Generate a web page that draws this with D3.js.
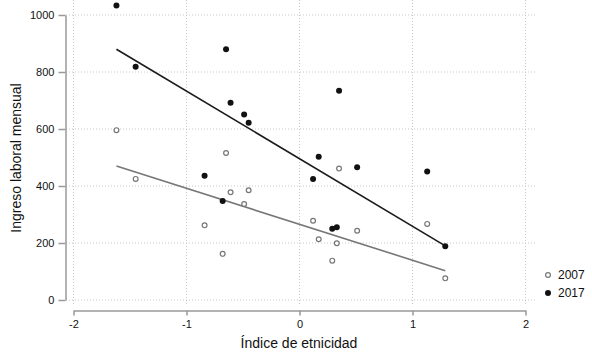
<!DOCTYPE html>
<html>
<head>
<meta charset="utf-8">
<script src="https://cdn.jsdelivr.net/npm/d3@7"></script>
<style>
  body { margin: 0; background: #fff; }
  svg { display: block; font-family: 'Liberation Sans', Arial, sans-serif; }
</style>
</head>
<body>
<svg id="chart" width="592" height="358"></svg>
<script>
// valores
const etnicidad = [-1.62, -1.45, -0.65, -0.84, -0.68, -0.61, -0.49, -0.45, 0.35, 0.12, 0.17, 0.33, 0.29, 0.51, 1.13, 1.29];
const ingreso2007 = [596, 425, 516, 262, 162, 378, 337, 385, 461, 278, 213, 199, 138, 243, 267, 76];

const etnicidad2017 = [-1.62, -1.45, -0.65, -0.61, -0.49, -0.45, -0.84, -0.68, 0.35, 0.17, 0.51, 1.13, 0.12, 0.29, 0.33, 1.29];
const ingreso2017 = [1033, 818, 880, 692, 651, 622, 436, 347, 734, 503, 466, 451, 425, 250, 255, 189];

// rectas de ajuste (extremos)
const ajuste2007 = [[-1.62, 470], [1.29, 103]];
const ajuste2017 = [[-1.62, 880], [1.29, 190]];

const xTicks = [-2, -1, 0, 1, 2];
const yTicks = [0, 200, 400, 600, 800, 1000];
const series = ['2007', '2017'];

const svg = d3.select('#chart');

const x = d3.scaleLinear().domain([-2, 2]).range([73.5, 525.5]);
const y = d3.scaleLinear().domain([0, 1000]).range([300, 15]);

// rejilla punteada
const grid = svg.append('g');
grid.selectAll('line.h')
  .data(yTicks)
  .enter()
  .append('line')
  .attr('x1', 66).attr('x2', 535)
  .attr('y1', d => y(d)).attr('y2', d => y(d))
  .attr('stroke', '#c8c8c8').attr('stroke-dasharray', '1,2');
grid.selectAll('line.v')
  .data(xTicks)
  .enter()
  .append('line')
  .attr('x1', d => x(d)).attr('x2', d => x(d))
  .attr('y1', 0).attr('y2', 306)
  .attr('stroke', '#c8c8c8').attr('stroke-dasharray', '1,2');

// ejes, etiquetas con guion simple como en el original
const fmt = d => String(d);
const xAxis = svg.append('g')
  .attr('transform', 'translate(0,310.5)')
  .call(d3.axisBottom(x).tickValues(xTicks).tickSize(5).tickSizeOuter(0).tickFormat(fmt));
const yAxis = svg.append('g')
  .attr('transform', 'translate(65.5,0)')
  .call(d3.axisLeft(y).tickValues(yTicks).tickSize(7).tickSizeOuter(0).tickFormat(fmt));

[xAxis, yAxis].forEach(a => {
  a.select('.domain').attr('stroke', '#999').attr('stroke-width', 1.5);
  a.selectAll('.tick line').attr('stroke', '#999').attr('stroke-width', 1.5);
  a.selectAll('.tick text').attr('fill', '#111').style('font-size', '11px');
});
xAxis.selectAll('.tick text').attr('dy', '0.9em');
yAxis.selectAll('.tick text').attr('dx', '-0.1em');

svg.append('text')
  .attr('x', 299).attr('y', 348)
  .attr('text-anchor', 'middle')
  .style('font-size', '14px').attr('fill', '#111')
  .text('Índice de etnicidad');

svg.append('text')
  .attr('transform', 'translate(21,158) rotate(-90)')
  .attr('text-anchor', 'middle')
  .style('font-size', '14px').attr('fill', '#111')
  .text('Ingreso laboral mensual');

// rectas
const line = d3.line().x(d => x(d[0])).y(d => y(d[1]));
svg.append('path').datum(ajuste2007)
  .attr('d', line).attr('stroke', '#777').attr('stroke-width', 1.6).attr('fill', 'none');
svg.append('path').datum(ajuste2017)
  .attr('d', line).attr('stroke', '#1a1a1a').attr('stroke-width', 1.6).attr('fill', 'none');

// puntos 2007 (huecos)
svg.selectAll('circle.p2007')
  .data(etnicidad.map((e, i) => [e, ingreso2007[i]]))
  .enter()
  .append('circle')
  .attr('class', 'p2007')
  .attr('cx', d => x(d[0])).attr('cy', d => y(d[1]))
  .attr('r', 2.4)
  .attr('fill', '#fff').attr('stroke', '#777').attr('stroke-width', 1.2);

// puntos 2017 (rellenos)
svg.selectAll('circle.p2017')
  .data(etnicidad2017.map((e, i) => [e, ingreso2017[i]]))
  .enter()
  .append('circle')
  .attr('class', 'p2017')
  .attr('cx', d => x(d[0])).attr('cy', d => y(d[1]))
  .attr('r', 3)
  .attr('fill', '#111');

// leyenda
const legend = svg.append('g').attr('transform', 'translate(548,275)');
legend.selectAll('g')
  .data(series)
  .enter()
  .append('g')
  .attr('transform', (d, i) => `translate(0,${i * 18})`)
  .each(function (d, i) {
    const g = d3.select(this);
    if (i === 0) {
      g.append('circle').attr('r', 2.4).attr('fill', '#fff').attr('stroke', '#777').attr('stroke-width', 1.2);
    } else {
      g.append('circle').attr('r', 3).attr('fill', '#111');
    }
    g.append('text').attr('x', 10).attr('dy', '0.35em')
      .style('font-size', '12px').attr('fill', '#111').text(d);
  });
</script>
</body>
</html>
